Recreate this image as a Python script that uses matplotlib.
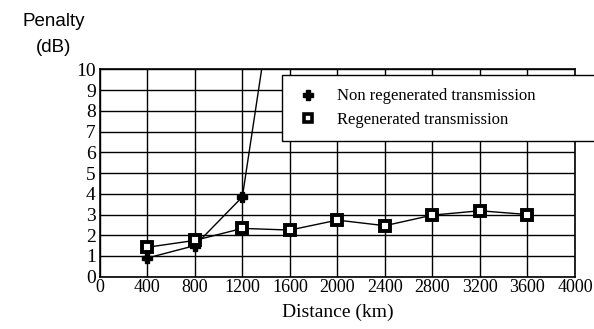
import matplotlib
matplotlib.use("Agg")
import matplotlib.pyplot as plt
from matplotlib.lines import Line2D

dist_non = [400, 800, 1200, 1600]
pen_non = [0.9, 1.5, 3.85, 19.0]
dist_reg = [400, 800, 1200, 1600, 2000, 2400, 2800, 3200, 3600]
pen_reg = [1.42, 1.75, 2.33, 2.25, 2.73, 2.46, 2.97, 3.18, 3.0]
xticks = [0, 400, 800, 1200, 1600, 2000, 2400, 2800, 3200, 3600, 4000]
yticks = list(range(0, 11))

serif = "Liberation Serif"
fig = plt.figure(figsize=(5.94, 3.29), dpi=100)
ax = fig.add_axes([0.168, 0.159, 0.80, 0.630])
ax.set_xlim(0, 4000)
ax.set_ylim(0, 10)
ax.set_xticks(xticks)
ax.set_yticks(yticks)
ax.set_xticklabels([str(t) for t in xticks], fontfamily=serif, fontsize=13)
ax.set_yticklabels([str(t) for t in yticks], fontfamily=serif, fontsize=14)
ax.tick_params(axis="x", length=0, pad=2)
ax.tick_params(axis="y", length=0, pad=3)
ax.grid(True, color="black", linewidth=1.0)
for s in ax.spines.values():
    s.set_linewidth(1.2)

ax.plot(dist_non, pen_non, color="black", linewidth=1.0, marker="P",
        markersize=7, markerfacecolor="black", markeredgecolor="black", clip_on=True, zorder=3)
ax.plot(dist_reg, pen_reg, color="black", linewidth=1.0, marker="s",
        markersize=6.5, markerfacecolor="white", markeredgecolor="black",
        markeredgewidth=2.8, zorder=3)

ax.set_xlabel("Distance (km)", fontfamily=serif, fontsize=14, labelpad=5)
fig.text(0.09, 0.935, "Penalty", fontfamily="Liberation Sans", fontsize=13.5, ha="center", va="center")
fig.text(0.09, 0.855, "(dB)", fontfamily="Liberation Sans", fontsize=13.5, ha="center", va="center")

handles = [
    Line2D([], [], linestyle="none", marker="P", markersize=7, color="black"),
    Line2D([], [], linestyle="none", marker="s", markersize=6, markerfacecolor="white",
           markeredgecolor="black", markeredgewidth=2.6),
]
leg = fig.legend(handles, ["Non regenerated transmission", "Regenerated transmission"],
                 loc="upper left", bbox_to_anchor=(0.475, 0.772, 0.56, 0.0),
                 mode="expand", borderaxespad=0, frameon=True, fancybox=False,
                 prop={"family": serif, "size": 12}, handletextpad=1.0,
                 borderpad=0.8, labelspacing=0.45, handlelength=1.5)
leg.get_frame().set_edgecolor("black")
leg.get_frame().set_linewidth(1.0)
leg.get_frame().set_alpha(1)

fig.savefig("out.png", dpi=100)
